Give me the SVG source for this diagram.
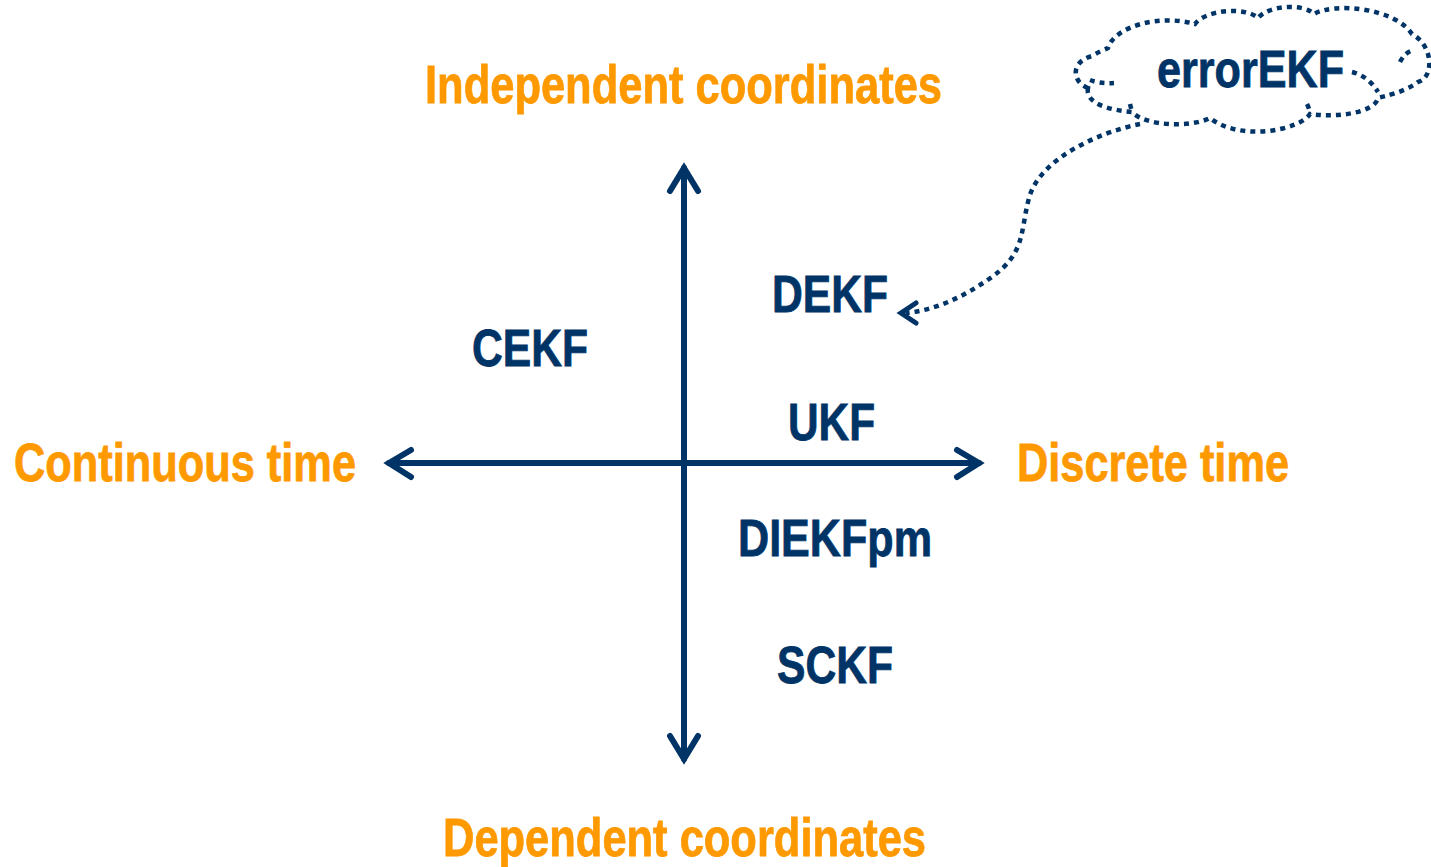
<svg xmlns="http://www.w3.org/2000/svg" width="1431" height="867" viewBox="0 0 1431 867">
<style>
.axis{fill:none;stroke:#003366;stroke-width:6;stroke-linecap:round;stroke-linejoin:miter;stroke-miterlimit:10}
.dot{fill:none;stroke:#003366;stroke-width:4.5;stroke-dasharray:5 5}
.head{fill:none;stroke:#003366;stroke-width:5;stroke-linecap:round;stroke-linejoin:miter;stroke-miterlimit:10}
.lab{font-family:"Liberation Sans",Arial,sans-serif;font-weight:bold;font-size:53px;fill:#FF9900;stroke:#FF9900;stroke-width:0.8}
.node{font-family:"Liberation Sans",Arial,sans-serif;font-weight:bold;font-size:52px;fill:#003366;stroke:#003366;stroke-width:0.8}
</style>
<rect width="1431" height="867" fill="#ffffff"/>
<g id="connectors">
<g id="axes">
<line class="axis" x1="684" y1="168" x2="684" y2="759"/>
<line class="axis" x1="389" y1="463" x2="979" y2="463"/>
<polyline class="axis" points="670,191 684,168 698,191"/>
<polyline class="axis" points="670,736 684,759 698,736"/>
<polyline class="axis" points="411,450 389,463 411,477"/>
<polyline class="axis" points="957,450 979,463 957,477"/>
</g>
<g id="cloud-link">
<path class="dot" d="M1140,124 C1100,132 1040,158 1029,198 C1020,232 1026,252 992,277 C962,298 935,310 906,313"/>
<polyline class="head" points="916,303 901,313 916,323"/>
</g>
</g>
<g id="labels">
<text class="lab" x="425" y="103" textLength="517" lengthAdjust="spacingAndGlyphs">Independent coordinates</text>
<text class="lab" x="443" y="856" textLength="483" lengthAdjust="spacingAndGlyphs">Dependent coordinates</text>
<text class="lab" x="14" y="481" textLength="342" lengthAdjust="spacingAndGlyphs">Continuous time</text>
<text class="lab" x="1017" y="481" textLength="272" lengthAdjust="spacingAndGlyphs">Discrete time</text>
</g>
<g id="node-CEKF"><text class="node" x="472" y="366" textLength="116" lengthAdjust="spacingAndGlyphs">CEKF</text></g>
<g id="node-DEKF"><text class="node" x="772" y="312" textLength="116" lengthAdjust="spacingAndGlyphs">DEKF</text></g>
<g id="node-UKF"><text class="node" x="788" y="440" textLength="87" lengthAdjust="spacingAndGlyphs">UKF</text></g>
<g id="node-DIEKFpm"><text class="node" x="738" y="556" textLength="194" lengthAdjust="spacingAndGlyphs">DIEKFpm</text></g>
<g id="node-SCKF"><text class="node" x="777" y="683" textLength="116" lengthAdjust="spacingAndGlyphs">SCKF</text></g>
<g id="node-errorEKF">
<path class="dot" d="M1088,88 C1072,82 1070,62 1092,56 C1098,52 1104,50 1108,48 C1115,26 1160,14 1195,24 C1205,10 1245,6 1258,18 C1270,4 1305,4 1314,14 C1335,2 1395,8 1412,34 C1434,46 1434,78 1418,82 C1405,92 1385,96 1378,98 C1375,112 1340,118 1310,114 C1300,130 1240,142 1210,118 C1190,128 1145,126 1132,112 C1110,110 1085,104 1088,88 Z"/>
<path class="dot" d="M1090,80 Q1100,84 1114,83"/>
<path class="dot" d="M1400,62 Q1405,52 1414,50"/>
<path class="dot" d="M1352,72 Q1368,76 1378,92"/>
<path class="dot" d="M1307,104 Q1310,110 1310,114"/>
<path class="dot" d="M1130,104 Q1131,108 1132,112"/>
<text class="node" x="1157" y="87" textLength="187" lengthAdjust="spacingAndGlyphs">errorEKF</text>
</g>
</svg>
